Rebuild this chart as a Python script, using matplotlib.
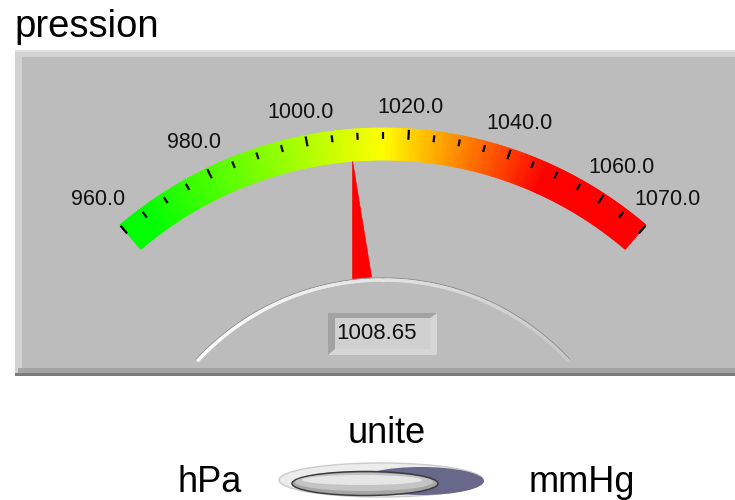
import numpy as np
import matplotlib
matplotlib.use("Agg")
import matplotlib.pyplot as plt
from matplotlib.patches import Wedge, Rectangle, Polygon, Ellipse
from matplotlib.colors import LinearSegmentedColormap
from matplotlib.collections import LineCollection

plt.rcParams['font.family'] = ['Liberation Sans', 'DejaVu Sans']

# --- data -------------------------------------------------------------
title = "pression"
scale_min = 960.0
scale_max = 1070.0
value = 1008.65
label_values = [960, 980, 1000, 1020, 1040, 1060, 1070]
minor_step = 5
stop_values = [960, 965, 1015, 1048, 1070]
stop_colors = ["#00ff00", "#00ff00", "#ffff00", "#ff0000", "#ff0000"]
switch_title = "unite"
switch_left = "hPa"
switch_right = "mmHg"

# --- geometry (pixels, y up) -------------------------------------------
W, H = 735, 500
cx, cy = 383, H - 533
R_out, R_in = 405, 373
half_span = 40.5
dome_r = 253


def ang(v):
    return np.radians(90 + half_span - (v - scale_min) / (scale_max - scale_min) * 2 * half_span)


def pt(r, a):
    return cx + r * np.cos(a), cy + r * np.sin(a)


fig = plt.figure(figsize=(W / 100, H / 100), dpi=100)
ax = fig.add_axes([0, 0, 1, 1])
ax.set_xlim(0, W)
ax.set_ylim(0, H)
ax.axis("off")
fig.patch.set_facecolor("white")

# title
ax.text(14, H - 37, title, fontsize=27.5, ha="left", va="baseline", color="black")

# panel with bevels
ax.add_patch(Rectangle((15, H - 376), 730, 326, fc="#d2d2d2", ec="none"))
ax.add_patch(Rectangle((15, H - 376), 730, 3, fc="#7a7a7a", ec="none"))
ax.add_patch(Rectangle((18, H - 373), 727, 5, fc="#a4a4a4", ec="none"))
ax.add_patch(Rectangle((22, H - 368), 723, 311, fc="#bcbcbc", ec="none"))
ax.add_patch(Rectangle((15, H - 52), 730, 2, fc="#e2e2e2", ec="none"))

# colour band
cmap = LinearSegmentedColormap.from_list(
    "g", [((v - scale_min) / (scale_max - scale_min), c) for v, c in zip(stop_values, stop_colors)])
edges = np.linspace(scale_min, scale_max, 301)
for v0, v1 in zip(edges[:-1], edges[1:]):
    col = cmap((0.5 * (v0 + v1) - scale_min) / (scale_max - scale_min))
    a0, a1 = np.degrees(ang(v1)), np.degrees(ang(v0))
    ax.add_patch(Wedge((cx, cy), R_out, a0, a1, width=R_out - R_in, fc=col, ec=col, lw=0.6))

# ticks
for v in np.arange(scale_min, scale_max + 0.1, minor_step):
    a = ang(v)
    major = v in label_values
    r1 = R_out - (1 if major else 4)
    r2 = R_out - 11
    x1, y1 = pt(r1, a)
    x2, y2 = pt(r2, a)
    ax.plot([x1, x2], [y1, y2], color="#000000", lw=1.6, solid_capstyle="butt")

# tick labels
for v in label_values:
    a = ang(v)
    r = R_out + 20 + 20 * abs(np.cos(a))
    x, y = pt(r, a)
    ax.text(x, y, f"{v:.1f}", fontsize=15.5, ha="center", va="center", color="#111111")

# needle
a = ang(value)
perp = a + np.pi / 2
tip = pt(R_in, a)
bx, by = pt(dome_r + 3, a)
hw = 9.5
needle = [tip,
          (bx + hw * np.cos(perp), by + hw * np.sin(perp)),
          (bx - hw * np.cos(perp), by - hw * np.sin(perp))]
ax.add_patch(Polygon(needle, closed=True, fc="#ff0000", ec="#ff0000", lw=0.5))

# dome outline
dome_half = np.radians(47)
t = np.linspace(np.pi / 2 + dome_half, np.pi / 2 - dome_half, 200)
xs, ys = cx + (dome_r + 2) * np.cos(t), cy + (dome_r + 2) * np.sin(t)
ax.plot(xs, ys, color="#8e8e8e", lw=0.9)
xs, ys = cx + dome_r * np.cos(t), cy + dome_r * np.sin(t)
segs = [[(xs[i], ys[i]), (xs[i + 1], ys[i + 1])] for i in range(len(xs) - 1)]
shade = np.linspace(0, 1, len(segs))
seg_cols = [(1 - 0.22 * s, 1 - 0.22 * s, 1 - 0.22 * s) for s in shade]
ax.add_collection(LineCollection(segs, colors=seg_cols, linewidths=2.4, capstyle="round"))

# digital display
ax.add_patch(Rectangle((328, H - 355), 109, 42, fc="#d6d6d6", ec="none"))
ax.add_patch(Polygon([(328, H - 355), (328, H - 313), (437, H - 313), (430, H - 318),
                      (335, H - 318), (335, H - 349)], closed=True, fc="#a2a2a2", ec="none"))
ax.add_patch(Rectangle((335, H - 349), 95, 31, fc="#d0d0d0", ec="none"))
ax.text(377, H - 333.5, f"{value:.2f}", fontsize=16, ha="center", va="center", color="#111111")

# switch
ax.text(387, H - 443, switch_title, fontsize=26, ha="center", va="baseline", color="black")
ax.text(210, H - 492, switch_left, fontsize=26, ha="center", va="baseline", color="black")
ax.text(582, H - 492, switch_right, fontsize=26, ha="center", va="baseline", color="black")
ax.add_patch(Ellipse((381, H - 480), 204, 34, fc="#ececec", ec="#cccccc", lw=1))
ax.add_patch(Ellipse((421, H - 481), 126, 28, fc="#68688a", ec="none"))
ax.add_patch(Ellipse((365, H - 483.5), 146, 24, fc="#a6a6a6", ec="#3c3c3c", lw=1.1))
ax.add_patch(Ellipse((364, H - 482), 138, 18, fc="#c4c4c4", ec="none"))
ax.add_patch(Ellipse((362, H - 480), 120, 10, fc="#e6e6e6", ec="none"))

fig.savefig("out.png", dpi=100, facecolor="white")
